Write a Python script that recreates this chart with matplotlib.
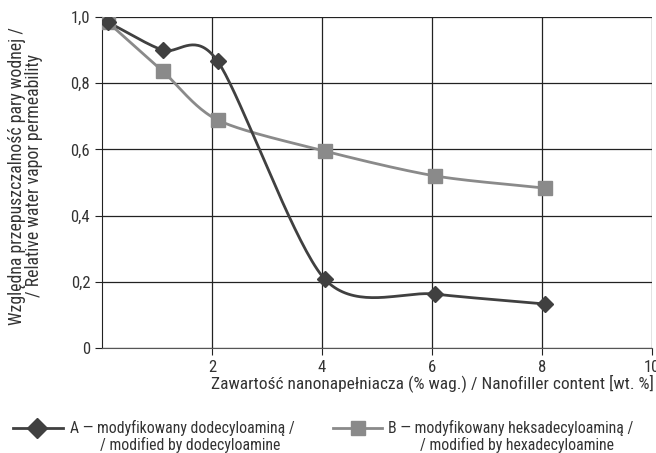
import matplotlib
matplotlib.use("Agg")
import matplotlib.pyplot as plt
import numpy as np
from matplotlib import font_manager

# dane
x_a = [0.1, 1.1, 2.1, 4.05, 6.05, 8.05]
y_a = [0.985, 0.90, 0.867, 0.208, 0.163, 0.133]
x_b = [0.1, 1.1, 2.1, 4.05, 6.05, 8.05]
y_b = [0.985, 0.837, 0.689, 0.595, 0.52, 0.483]

xticks = [2, 4, 6, 8, 10]
yticks = [0, 0.2, 0.4, 0.6, 0.8, 1.0]
yticklabels = ["0", "0,2", "0,4", "0,6", "0,8", "1,0"]

# czcionka waska, jesli jest
names = set(f.name for f in font_manager.fontManager.ttflist)
fam = ["DejaVu Sans"]
for n in ["Roboto Condensed", "Liberation Sans Narrow", "Archivo Narrow", "PT Sans Narrow"]:
    if n in names:
        fam = [n, "DejaVu Sans"]
        break
plt.rcParams['font.family'] = fam
plt.rcParams['font.stretch'] = 'condensed'

def spline(xs, ys, n=40, s=0.42):
    # spline kardynalny (wygladzenie linii)
    xs = np.asarray(xs, float); ys = np.asarray(ys, float)
    px = np.concatenate([[2*xs[0]-xs[1]], xs, [2*xs[-1]-xs[-2]]])
    py = np.concatenate([[2*ys[0]-ys[1]], ys, [2*ys[-1]-ys[-2]]])
    ox, oy = [], []
    t = np.linspace(0, 1, n)
    h00 = 2*t**3 - 3*t**2 + 1
    h10 = t**3 - 2*t**2 + t
    h01 = -2*t**3 + 3*t**2
    h11 = t**3 - t**2
    for i in range(1, len(px)-2):
        for p, o in ((px, ox), (py, oy)):
            m1 = s*(p[i+1]-p[i-1])
            m2 = s*(p[i+2]-p[i])
            o.extend(h00*p[i] + h10*m1 + h01*p[i+1] + h11*m2)
    return ox, oy

fig = plt.figure(figsize=(6.56, 4.53), dpi=100)
ax = fig.add_axes([0.1555, 0.2318, 0.8385, 0.7307])

ca = "#404040"
cb = "#8a8a8a"
tc = "#333333"
sx, sy = spline(x_b, y_b)
ax.plot(sx, sy, color=cb, lw=2, zorder=3)
ax.plot(x_b, y_b, ls="none", marker="s", ms=10, color=cb, zorder=4)
sx, sy = spline(x_a, y_a)
ax.plot(sx, sy, color=ca, lw=2, zorder=3)
ax.plot(x_a, y_a, ls="none", marker="D", ms=8.5, color=ca, zorder=5)

ax.set_xlim(0, 10)
ax.set_ylim(0, 1.0)
ax.set_xticks(xticks)
ax.set_yticks(yticks)
ax.set_yticklabels(yticklabels)
ax.grid(True, color="#222222", lw=0.9)
ax.set_axisbelow(True)
for s in ["top", "right"]:
    ax.spines[s].set_visible(False)
ax.spines["left"].set_color("#222222")
ax.spines["bottom"].set_color("#555555")
ax.tick_params(labelsize=12, color="#222222", length=5, labelcolor=tc)

ax.set_xlabel("Zawartość nanonapełniacza (% wag.) / Nanofiller content [wt. %]",
              fontsize=12.5, color=tc)
ax.xaxis.set_label_coords(0.6, -0.08)
ax.set_ylabel("Względna przepuszczalność pary wodnej /\n/ Relative water vapor permeability",
              fontsize=12.8, color=tc, linespacing=0.95)
ax.yaxis.set_label_coords(-0.107, 0.52)

# legenda na dole
yl = 1 - 428/453
yl2 = 1 - 445/453
fs = 11.3
fig.lines.append(plt.Line2D([13/656, 63/656], [yl]*2, color=ca, lw=2, transform=fig.transFigure))
fig.lines.append(plt.Line2D([37/656], [yl], color=ca, marker="D", ms=10, transform=fig.transFigure))
fig.lines.append(plt.Line2D([333/656, 382/656], [yl]*2, color=cb, lw=2, transform=fig.transFigure))
fig.lines.append(plt.Line2D([358/656], [yl], color=cb, marker="s", ms=10, transform=fig.transFigure))
fig.text(70/656, yl, "A — modyfikowany dodecyloaminą /", fontsize=fs, color=tc, va="center")
fig.text(100/656, yl2, "/ modified by dodecyloamine", fontsize=fs, color=tc, va="center")
fig.text(388/656, yl, "B — modyfikowany heksadecyloaminą /", fontsize=fs, color=tc, va="center")
fig.text(420/656, yl2, "/ modified by hexadecyloamine", fontsize=fs, color=tc, va="center")

fig.savefig("out.png", dpi=100)
